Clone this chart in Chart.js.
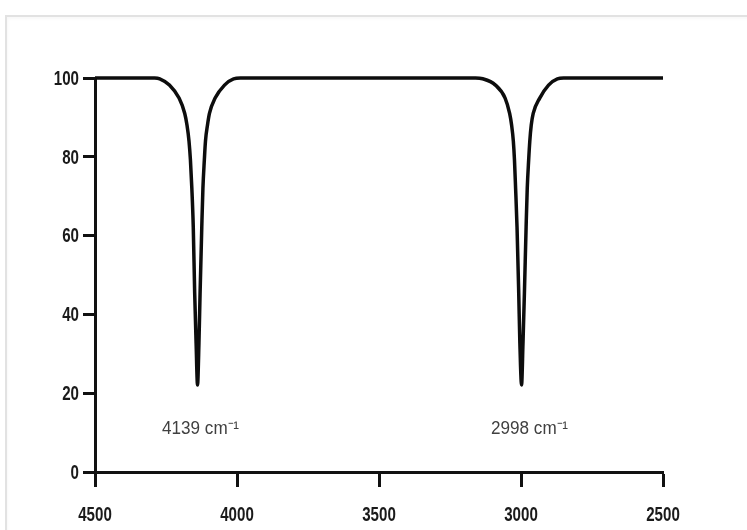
<!DOCTYPE html>
<html>
<head>
<meta charset="utf-8">
<script src="https://cdn.jsdelivr.net/npm/chart.js@4/dist/chart.umd.min.js"></script>
<style>
  html, body { margin: 0; padding: 0; background: #fff; }
  #wrap { position: relative; width: 747px; height: 530px; overflow: hidden; }
  #frame {
    position: absolute; left: 5px; top: 15px; width: 800px; height: 600px;
    border-left: 2px solid #e2e2e2; border-top: 2px solid #e2e2e2;
    box-shadow: inset 1px 2px 3px rgba(0,0,0,0.03);
  }
  canvas { position: absolute; left: 0; top: 0; }
</style>
</head>
<body>
<div id="wrap">
  <div id="frame"></div>
  <canvas id="c" width="747" height="530"></canvas>
</div>
<script>
// IR spectrum: wavenumber (cm-1) against transmittance (%)
const wavenumbers = [
  4500, 4290, 4272, 4238, 4204, 4184, 4176, 4169, 4164, 4159, 4154, 4149, 4144,
  4139,
  4134, 4130, 4124, 4120, 4115, 4111, 4104, 4097, 4077, 4044, 4012, 3988,
  3160, 3135, 3090, 3056, 3040, 3033, 3027, 3023, 3019, 3014, 3008, 3004,
  2998,
  2993, 2988, 2982, 2978, 2973, 2969, 2964, 2957, 2934, 2903, 2872, 2850, 2500
];
const transmittance = [
  100, 100, 99.8, 98.2, 94.9, 91, 88, 84, 79.2, 72, 62.2, 45.4, 32.7,
  22.1,
  32.7, 45.4, 62.2, 72, 79.2, 84, 88, 91, 94.9, 98.2, 99.8, 100,
  100, 99.8, 98.2, 94.9, 91, 88, 84, 79.2, 72, 62.2, 45.4, 32.7,
  22.1,
  32.7, 45.4, 62.2, 72, 79.2, 84, 88, 91, 94.9, 98.2, 99.8, 100, 100
];

// Band assignments written under each absorption
const peakPositions = [4139, 2998];
const peakLabels = ['4139 cm⁻¹', '2998 cm⁻¹'];
const labelLevel = 11;

// Axis ticks
const xTicks = [4500, 4000, 3500, 3000, 2500];
const yTicks = [0, 20, 40, 60, 80, 100];

const points = wavenumbers.map((w, i) => ({ x: w, y: transmittance[i] }));

// Condensed bold numerals for the axes, drawn squeezed horizontally
const tickLabelFont = 'bold 21px "Liberation Sans", Arial, sans-serif';

function drawSqueezed(ctx, text, x, y, align, squeeze) {
  ctx.save();
  ctx.translate(x, y);
  ctx.scale(squeeze, 1);
  ctx.textAlign = align;
  ctx.fillText(text, 0, 0);
  ctx.restore();
}

const axisLabelPlugin = {
  id: 'axisLabels',
  afterDraw(chart) {
    const { ctx, scales: { x, y } } = chart;
    ctx.save();
    ctx.font = tickLabelFont;
    ctx.fillStyle = '#1a1a1a';
    ctx.textBaseline = 'middle';
    yTicks.forEach(v => {
      drawSqueezed(ctx, String(v), y.right - 16, y.getPixelForValue(v) + 1, 'right', 0.72);
    });
    xTicks.forEach(v => {
      drawSqueezed(ctx, String(v), x.getPixelForValue(v), x.top + 43, 'center', 0.72);
    });
    ctx.restore();
  }
};

const peakLabelPlugin = {
  id: 'peakLabels',
  afterDatasetsDraw(chart) {
    const { ctx, scales: { x, y } } = chart;
    const shifts = [3, 8];
    ctx.save();
    ctx.font = '18px "Liberation Sans", Arial, sans-serif';
    ctx.fillStyle = '#404040';
    ctx.textBaseline = 'middle';
    peakPositions.forEach((p, i) => {
      drawSqueezed(ctx, peakLabels[i], x.getPixelForValue(p) + shifts[i], y.getPixelForValue(labelLevel), 'center', 0.95);
    });
    ctx.restore();
  }
};

const hiddenTicks = { color: 'rgba(0,0,0,0)', font: { size: 20 }, callback: v => String(v) };

new Chart(document.getElementById('c'), {
  type: 'line',
  data: {
    datasets: [{
      data: points,
      borderColor: '#0d0d0d',
      borderWidth: 3.5,
      pointRadius: 0,
      fill: false,
      cubicInterpolationMode: 'monotone',
      clip: false
    }]
  },
  options: {
    responsive: false,
    animation: false,
    events: [],
    layout: { padding: { left: 0, top: 78, right: 84, bottom: 0 } },
    plugins: { legend: { display: false }, tooltip: { enabled: false } },
    scales: {
      x: {
        type: 'linear',
        reverse: true,
        min: 2500,
        max: 4500,
        afterBuildTicks: s => { s.ticks = xTicks.map(v => ({ value: v })); },
        afterFit: s => { s.height = 58; },
        border: { display: true, color: '#111', width: 3 },
        grid: { drawOnChartArea: false, drawTicks: true, tickLength: 15, tickWidth: 3, tickColor: '#111' },
        ticks: Object.assign({ maxRotation: 0 }, hiddenTicks)
      },
      y: {
        min: 0,
        max: 100,
        afterBuildTicks: s => { s.ticks = yTicks.map(v => ({ value: v })); },
        afterFit: s => { s.width = 95; },
        border: { display: true, color: '#111', width: 3 },
        grid: { drawOnChartArea: false, drawTicks: true, tickLength: 12, tickWidth: 3, tickColor: '#111' },
        ticks: hiddenTicks
      }
    }
  },
  plugins: [peakLabelPlugin, axisLabelPlugin]
});
</script>
</body>
</html>
